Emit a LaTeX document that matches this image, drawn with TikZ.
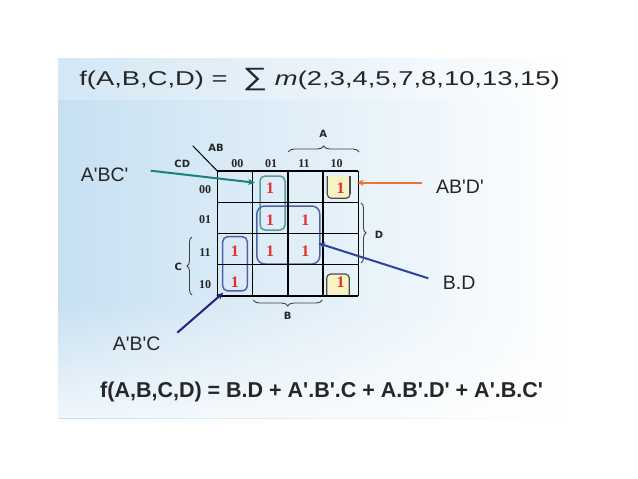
\documentclass[tikz,border=0pt]{standalone}
\usepackage{fontspec}
\setmainfont{Liberation Sans}
\newfontfamily\mapfont{Liberation Serif}
\newfontfamily\varfont{DejaVu Sans}
\usetikzlibrary{decorations.pathreplacing,arrows.meta,fadings}
\newcommand{\qq}{\textquotesingle}

\definecolor{bgblue}{RGB}{198,224,242}
\definecolor{oneRed}{RGB}{226,48,42}
\definecolor{tealArrow}{RGB}{28,128,124}
\definecolor{tealLoop}{RGB}{85,155,155}
\definecolor{orangeArrow}{RGB}{240,115,50}
\definecolor{blueArrow}{RGB}{45,68,158}
\definecolor{navyArrow}{RGB}{36,36,122}
\definecolor{blueLoop}{RGB}{78,98,168}
\definecolor{padYellow}{RGB}{247,243,196}

\tikzset{
	one/.style={font=\mapfont\bfseries\fontsize{16}{16}\selectfont, text=oneRed, inner sep=0pt},
	hdr/.style={font=\mapfont\bfseries\fontsize{12}{12}\selectfont, text=black!85, inner sep=0pt},
	var/.style={font=\varfont\bfseries\fontsize{10}{10}\selectfont, text=black!85, inner sep=0pt},
	term/.style={font=\fontsize{19.5}{20}\selectfont, text=black!85, inner sep=0pt, anchor=west},
	gridline/.style={line width=1.4pt, black},
	loopbox/.style={draw, line width=1.5pt, rounded corners=5pt, inner sep=0pt},
	pad/.style={fill=padYellow, draw=black!70, line width=1.2pt, rounded corners=4pt},
	brc/.style={decorate, decoration={brace, amplitude=6pt}, line width=0.9pt, black!75},
	pointer/.style={line width=2pt, -{Stealth[length=7pt,width=6pt]}},
}

\begin{document}
\begin{tikzpicture}[x=1pt, y=-1pt]
	\useasboundingbox (0,0) rectangle (638,479);
	% slide background
	\shade[left color=bgblue, right color=white] (58,58) rectangle (574,418);
	\fill[white, path fading=north, fill opacity=0.75] (58,300) rectangle (574,418);
	\fill[white, fill opacity=0.25] (58,58) rectangle (574,100);

	% function
	\node (fsum) at (79,80) [anchor=west, inner sep=0pt, xscale=1.37, font=\fontsize{20}{20}\selectfont, text=black!85] {f(A,B,C,D) =\ \ {\fontsize{25}{25}\selectfont ∑} \textit{m}(2,3,4,5,7,8,10,13,15)};

	% loops and pads
	\node (loopABC) at (272.5,203) [loopbox, draw=tealLoop, minimum width=25pt, minimum height=54pt] {};
	\node (loopBD) at (288.3,235) [loopbox, draw=blueLoop, rounded corners=8pt, minimum width=63pt, minimum height=58pt] {};
	\node (loopABbC) at (235,263.8) [loopbox, draw=blueLoop, minimum width=24.6pt, minimum height=54.3pt] {};
	\path[pad] (327.3,176) -- (327.3,198.3) -- (350,198.3) -- (350,176);
	\path[pad] (326.7,296) -- (326.7,274) -- (349.3,274) -- (349.3,296);
	\draw[black!70, line width=1.2pt] (327.3,176) -- (327.3,194) (350,176) -- (350,194);
	\draw[black!70, line width=1.2pt] (326.7,296) -- (326.7,278) (349.3,296) -- (349.3,278);

	% map grid
	\foreach \i in {0,...,4} {
		\draw[gridline] (217.3+\i*35.25,171) -- (217.3+\i*35.25,296);
		\draw[gridline] (217.3,171+\i*31.25) -- (358.3,171+\i*31.25);
	}
	\draw[line width=1pt] (192.7,145.7) -- (217.3,171);

	% headers
	\node (hAB) at (216,147.7) [var] {AB};
	\node (hCD) at (182.3,164) [var] {CD};
	\foreach \lbl/\x [count=\k] in {00/237.3,01/271,11/304,10/336.7}
		\node (col\k) at (\x,163.5) [hdr] {\lbl};
	\foreach \lbl/\y [count=\k] in {00/189.3,01/219.3,11/252.3,10/284.3}
		\node (row\k) at (205,\y) [hdr] {\lbl};

	% minterms
	\foreach \c/\r in {1/0,3/0,1/1,2/1,0/2,1/2,2/2,0/3,3/3}
		\node (m\c\r) at (217.3+\c*35.25+17.6,171+\r*31.25+17.6) [one] {1};

	% variable braces
	\draw[brc] (288.3,152) -- (359,152);
	\draw[brc] (322.3,300) -- (253.3,300);
	\draw[brc, decoration={amplitude=5pt}] (192,295) -- (192,237);
	\draw[brc, decoration={amplitude=5pt}] (361,203) -- (361,263);
	\node (vA) at (323.3,134) [var] {A};
	\node (vB) at (287.7,316) [var] {B};
	\node (vC) at (178.3,266.7) [var] {C};
	\node (vD) at (379,235) [var] {D};

	% group terms
	\node (tABC) at (80.7,175) [term] {A\qq BC\qq};
	\node (tABD) at (436,186.7) [term] {AB\qq D\qq};
	\node (tBD) at (442.7,283) [term] {B.D};
	\node (tAbBC) at (112.7,343.5) [term] {A\qq B\qq C};
	\coordinate (sABC) at (150.7,170.7);
	\coordinate (eABC) at (255,182.7);
	\coordinate (sABD) at (421.7,182.7);
	\coordinate (eABD) at (356.7,182.7);
	\coordinate (sBD) at (428.3,278.3);
	\coordinate (eBD) at (318.3,243.3);
	\coordinate (sAbBC) at (177.3,332.7);
	\coordinate (eAbBC) at (223.3,292.7);
	\draw
	(sABC) edge[pointer, tealArrow] (eABC)
	(sABD) edge[pointer, orangeArrow] (eABD)
	(sBD) edge[pointer, blueArrow] (eBD)
	(sAbBC) edge[pointer, navyArrow] (eAbBC)
	;

	% result
	\node (fres) at (100,391.5) [anchor=west, inner sep=0pt, font=\bfseries\fontsize{21.5}{22}\selectfont, text=black!85] {f(A,B,C,D) = B.D + A\qq.B\qq.C + A.B\qq.D\qq{} + A\qq.B.C\qq};
\end{tikzpicture}
\end{document}
